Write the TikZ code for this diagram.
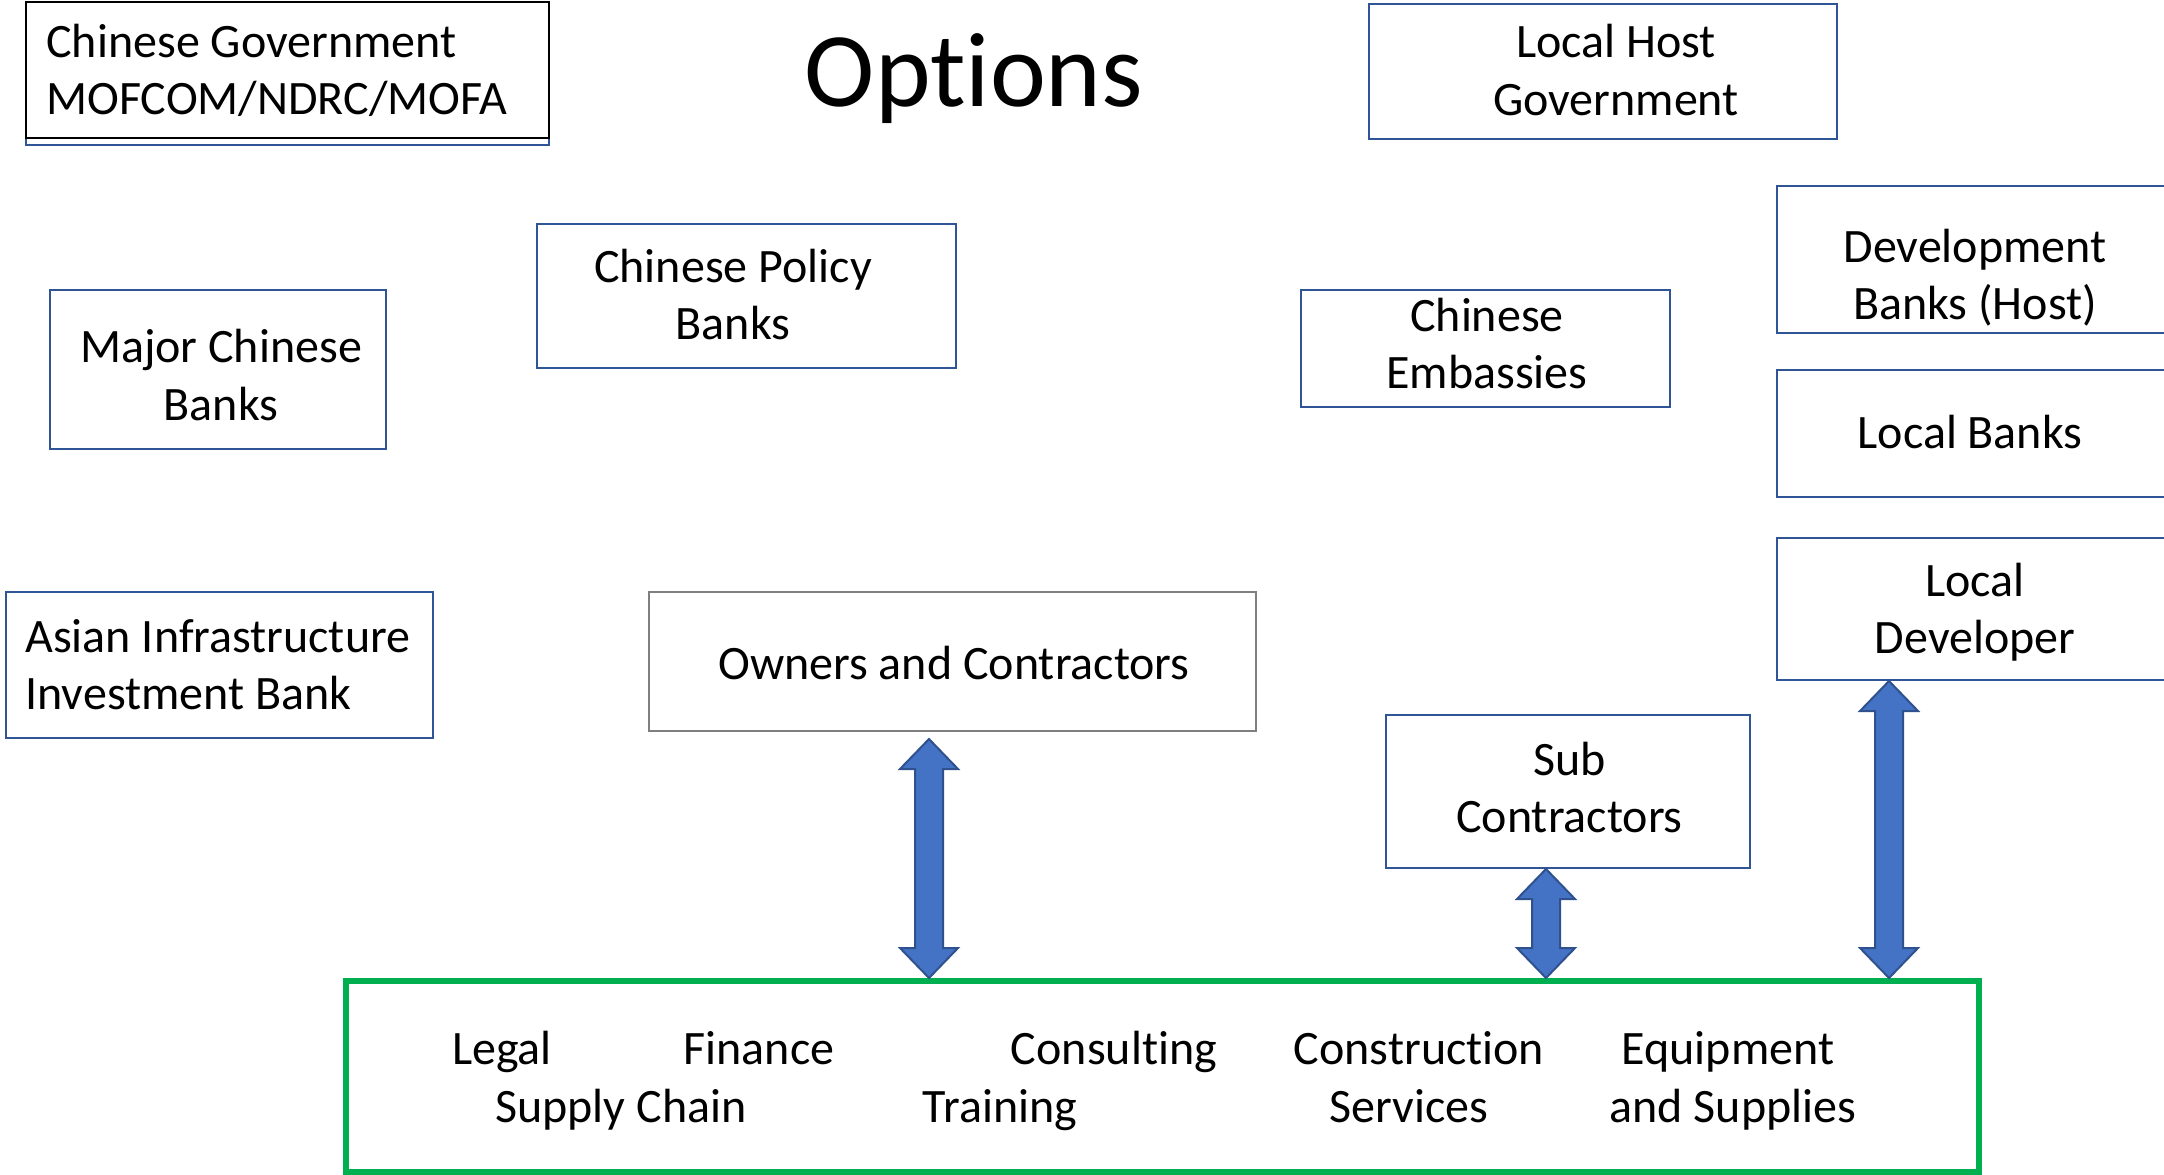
\documentclass[tikz,border=0pt]{standalone}
\usepackage{fontspec}
\setmainfont{Carlito}[Ligatures={NoCommon}]
\usetikzlibrary{calc}
\definecolor{boxblue}{HTML}{2F5597}
\definecolor{arrowfill}{HTML}{4472C4}
\definecolor{arrowline}{HTML}{2F528F}
\definecolor{greenline}{HTML}{00B050}
\definecolor{grayline}{HTML}{7F7F7F}
\tikzset{
  bluebox/.style={draw=boxblue, line width=1pt, inner sep=0pt},
  graybox/.style={bluebox, draw=grayline},
  lbl/.style={inner sep=0pt, align=center, font=\fontsize{24}{28.6}\selectfont},
  lbll/.style={lbl, align=left, anchor=west},
  gtxt/.style={lbl, anchor=base},
  blockarrow/.style={fill=arrowfill, draw=arrowline, line width=1pt, line join=miter}
}
\newcommand\dblarrow[2]{%
  \path[blockarrow] let \p1=#1, \p2=#2 in
    (\x1,\y1) -- (\x1+14.5pt,\y1-15pt) -- (\x1+7pt,\y1-15pt) -- (\x1+7pt,\y2+15pt)
    -- (\x1+14.5pt,\y2+15pt) -- (\x1,\y2) -- (\x1-14.5pt,\y2+15pt) -- (\x1-7pt,\y2+15pt)
    -- (\x1-7pt,\y1-15pt) -- (\x1-14.5pt,\y1-15pt) -- cycle;}
\begin{document}
\begin{tikzpicture}[x=0.5pt, y=-0.5pt]
\useasboundingbox[fill=white] (0,0) rectangle (2164,1174);
% Chinese government (blue frame behind black frame)
\draw[boxblue, line width=1pt] (26,2) rectangle (549,145);
\node[bluebox, draw=black, minimum width=261.5pt, minimum height=68pt] (gov) at (287.5,70) {};
\node[lbll] (govt) at (46,70) {Chinese Government\\MOFCOM/NDRC/MOFA};
\node[inner sep=0pt, anchor=base, font=\fontsize{53}{60}\selectfont] (title) at (974,106) {Options};
\node[bluebox, minimum width=234pt, minimum height=67.5pt] (host) at (1603,71.5) {};
\node[lbl] (hostt) at (1616,70) {Local Host\\Government};
\node[bluebox, minimum width=209.5pt, minimum height=72pt] (policy) at (746.5,296) {};
\node[lbl] (policyt) at (733,294.6) {Chinese Policy\\Banks};
\node[bluebox, minimum width=168pt, minimum height=79.5pt] (major) at (218,369.5) {};
\node[lbl] (majort) at (221,375) {Major Chinese\\Banks};
\node[bluebox, minimum width=184.5pt, minimum height=58.5pt] (emb) at (1485.5,348.5) {};
\node[lbl] (embt) at (1487,343.7) {Chinese\\Embassies};
\node[bluebox, minimum width=199pt, minimum height=73.5pt] (devbank) at (1976,259.5) {};
\node[lbl] (devbankt) at (1975,277.4) {Development\\Banks (Host)};
\node[bluebox, minimum width=199pt, minimum height=63.5pt] (localbank) at (1976,433.5) {};
\node[lbl] (localbankt) at (1970,432) {Local Banks};
\node[bluebox, minimum width=199pt, minimum height=71pt] (localdev) at (1976,609) {};
\node[lbl] (localdevt) at (1975,612.5) {Local\\Developer};
\node[bluebox, minimum width=213.5pt, minimum height=73pt] (aiib) at (219.5,665) {};
\node[lbll] (aiibt) at (25,665) {Asian Infrastructure\\Investment Bank};
\node[graybox, minimum width=303.5pt, minimum height=69.5pt] (owners) at (952.5,661.5) {};
\node[lbl] (ownerst) at (954,663) {Owners and Contractors};
\node[bluebox, minimum width=182pt, minimum height=76.5pt] (sub) at (1568,791.5) {};
\node[lbl] (subt) at (1569.5,787.5) {Sub\\Contractors};
\node[draw=greenline, line width=3pt, inner sep=0pt, minimum width=816.5pt, minimum height=95.5pt] (green) at (1162.5,1076.5) {};
% texts inside the green box
\node[gtxt] (legal) at (502,1064) {Legal};
\node[gtxt] (finance) at (759,1064) {Finance};
\node[gtxt] (consult) at (1114,1064) {Consulting};
\node[gtxt] (constr) at (1419,1064) {Construction};
\node[gtxt] (equip) at (1728,1064) {Equipment};
\node[gtxt] (supply) at (621,1122) {Supply Chain};
\node[gtxt] (train) at (1000,1122) {Training};
\node[gtxt] (serv) at (1409,1122) {Services};
\node[gtxt] (supp) at (1733,1122) {and Supplies};
% arrows
\coordinate (xa) at (929,0);
\coordinate (xb) at (1546,0);
\coordinate (xc) at (1889,0);
\dblarrow{([yshift=-3.5pt]owners.south -| xa)}{(green.north -| xa)}
\dblarrow{(sub.south -| xb)}{(green.north -| xb)}
\dblarrow{(localdev.south -| xc)}{(green.north -| xc)}
\end{tikzpicture}
\end{document}
